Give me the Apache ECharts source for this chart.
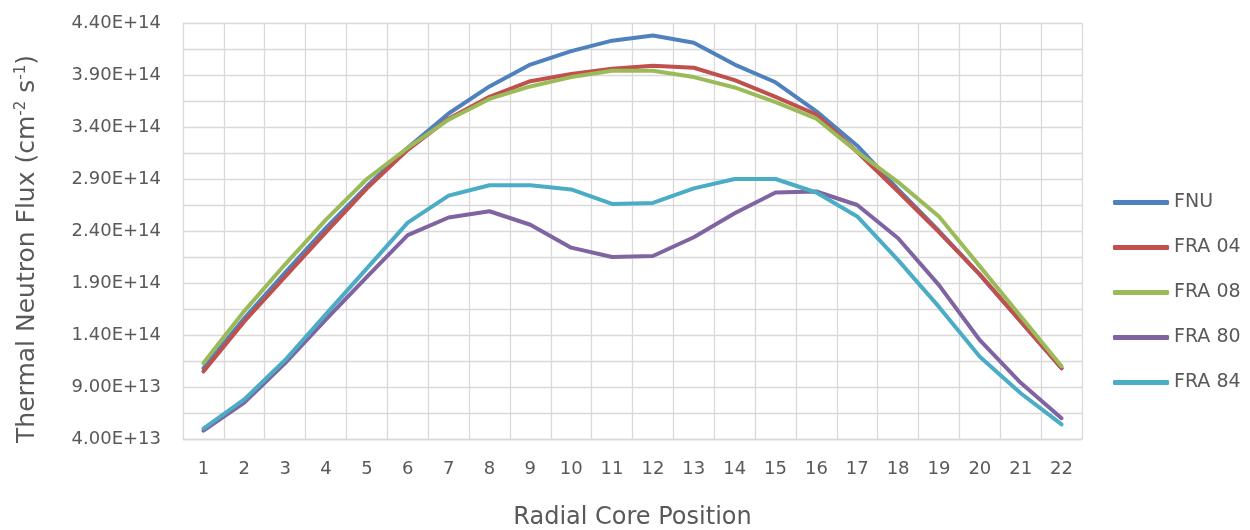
<!DOCTYPE html>
<html>
<head>
<meta charset="utf-8">
<script src="https://cdn.jsdelivr.net/npm/echarts@6/dist/echarts.min.js"></script>
<style>
html,body{margin:0;padding:0;background:#fff;}
#chart{width:1250px;height:530px;}
</style>
</head>
<body>
<div id="chart"></div>
<script>
const categories = ['1','2','3','4','5','6','7','8','9','10','11','12','13','14','15','16','17','18','19','20','21','22'];
const seriesNames = ['FNU','FRA 04','FRA 08','FRA 80','FRA 84'];
const FNU   = [1.08e14,1.56e14,2.00e14,2.43e14,2.83e14,3.20e14,3.53e14,3.79e14,4.00e14,4.13e14,4.23e14,4.28e14,4.21e14,4.00e14,3.83e14,3.55e14,3.22e14,2.80e14,2.40e14,1.98e14,1.53e14,1.08e14];
const FRA04 = [1.05e14,1.53e14,1.96e14,2.39e14,2.81e14,3.18e14,3.48e14,3.69e14,3.84e14,3.91e14,3.96e14,3.99e14,3.97e14,3.85e14,3.69e14,3.52e14,3.16e14,2.78e14,2.39e14,1.98e14,1.53e14,1.08e14];
const FRA08 = [1.13e14,1.63e14,2.08e14,2.51e14,2.90e14,3.20e14,3.47e14,3.67e14,3.79e14,3.88e14,3.94e14,3.94e14,3.88e14,3.78e14,3.64e14,3.48e14,3.16e14,2.87e14,2.54e14,2.06e14,1.58e14,1.10e14];
const FRA80 = [4.8e13,7.5e13,1.13e14,1.55e14,1.96e14,2.36e14,2.53e14,2.59e14,2.46e14,2.24e14,2.15e14,2.16e14,2.34e14,2.57e14,2.77e14,2.78e14,2.65e14,2.33e14,1.88e14,1.35e14,9.4e13,6.0e13];
const FRA84 = [5.0e13,7.8e13,1.16e14,1.60e14,2.04e14,2.48e14,2.74e14,2.84e14,2.84e14,2.80e14,2.66e14,2.67e14,2.81e14,2.90e14,2.90e14,2.77e14,2.54e14,2.12e14,1.67e14,1.19e14,8.4e13,5.4e13];
const yMin = 4e13, yMax = 4.4e14, yInterval = 5e13;
const colors = ['#4F81BD','#C0504D','#9BBB59','#8064A2','#4BACC6'];
const allData = [FNU, FRA04, FRA08, FRA80, FRA84];

const FONT = 'DejaVu Sans';
const TXT = '#595959';
const GRID = '#d9d9d9';

const chart = echarts.init(document.getElementById('chart'), null, {renderer:'canvas'});
chart.setOption({
  animation:false,
  backgroundColor:'#fff',
  color:colors,
  grid:{left:183,right:168,top:23,bottom:91,containLabel:false,outerBoundsMode:'none'},
  legend:{
    orient:'vertical',
    left:1108,
    top:188,
    icon:'roundRect',
    itemWidth:56,
    itemHeight:5,
    itemGap:26,
    textStyle:{fontFamily:FONT,fontSize:19,color:TXT},
    data:seriesNames
  },
  xAxis:{
    type:'category',
    data:categories,
    boundaryGap:true,
    name:'Radial Core Position',
    nameLocation:'middle',
    nameGap:67,
    nameTextStyle:{fontFamily:FONT,fontSize:24,color:TXT},
    axisLine:{show:true,lineStyle:{color:GRID,width:1.3}},
    axisTick:{show:false},
    axisLabel:{fontFamily:FONT,fontSize:18,color:TXT,margin:21,interval:0},
    splitLine:{show:true,lineStyle:{color:GRID,width:1.3}}
  },
  yAxis:{
    type:'value',
    min:yMin,max:yMax,interval:yInterval,
    name:'{a|Thermal Neutron Flux (cm}{s|-2}{a| s}{s|-1}{a|)}',
    nameLocation:'middle',
    nameGap:142,
    nameRotate:90,
    nameTextStyle:{
      padding:[0,36,0,0],
      rich:{
        a:{fontFamily:FONT,fontSize:25,color:TXT},
        s:{fontFamily:FONT,fontSize:15,color:TXT,verticalAlign:'top',padding:[0,0,12,0]}
      }
    },
    axisLine:{show:false},
    axisTick:{show:false},
    axisLabel:{fontFamily:FONT,fontSize:18,color:TXT,margin:22,
      formatter:function(v){return v.toExponential(2).toUpperCase();}},
    splitLine:{show:true,lineStyle:{color:GRID,width:1.3}},
    minorTick:{show:false,splitNumber:2},
    minorSplitLine:{show:true,lineStyle:{color:GRID,width:1.3}}
  },
  series: seriesNames.map((n,i)=>({
    name:n,
    type:'line',
    data:allData[i],
    symbol:'none',
    smooth:false,
    lineStyle:{width:4,color:colors[i],cap:'round',join:'round'},
    itemStyle:{color:colors[i]}
  }))
});
</script>
</body>
</html>
